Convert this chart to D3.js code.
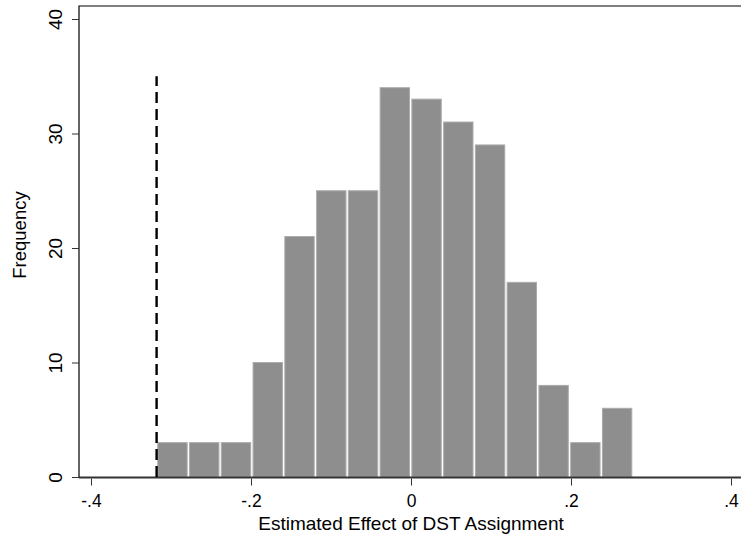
<!DOCTYPE html>
<html><head><meta charset="utf-8">
<script src="https://cdn.jsdelivr.net/npm/d3@7"></script>
<style>body{margin:0;background:#fff}svg{display:block}text{font-family:"Liberation Sans",Arial,sans-serif;fill:#000}</style>
</head><body>
<svg id="c" width="741" height="538"></svg>
<script>
const counts = [3,3,3,10,21,25,25,34,33,31,29,17,8,3,6];
const binStart = -0.318;
const binWidth = 0.0397;
const refLine = {x: -0.318, top: 35};
const xTicks = [-0.4,-0.2,0,0.2,0.4];
const xTickLabels = ["-.4","-.2","0",".2",".4"];
const yTicks = [0,10,20,30,40];
const xTitle = "Estimated Effect of DST Assignment";
const yTitle = "Frequency";

const svg = d3.select("#c");
const x = d3.scaleLinear().domain([-0.4,0.4]).range([91,731]);
const y = d3.scaleLinear().domain([0,40]).range([477,19]);
const frameLeft = 79, frameTop = 6, frameRight = 741;

const bins = counts.map((c,i)=>({x0: binStart+i*binWidth, x1: binStart+(i+1)*binWidth, c}));

svg.append("g").selectAll("rect").data(bins).join("rect")
  .attr("x", d=>x(d.x0)+1.2)
  .attr("width", d=>x(d.x1)-x(d.x0)-2.4)
  .attr("y", d=>y(d.c))
  .attr("height", d=>y(0)-y(d.c))
  .attr("fill","#8e8e8e").attr("stroke","#ababab").attr("stroke-width",1);

// baseline
svg.append("line").attr("x1",frameLeft).attr("x2",frameRight).attr("y1",y(0)+0.5).attr("y2",y(0)+0.5)
  .attr("stroke","#333").attr("stroke-width",2);

// frame
svg.append("path").attr("d",`M${frameLeft},${y(0)}V${frameTop}H${frameRight}`).attr("fill","none").attr("stroke","#000").attr("stroke-width",1.2);

// dashed line
svg.append("line").attr("x1",x(refLine.x)).attr("x2",x(refLine.x))
  .attr("y1",y(0)).attr("y2",y(refLine.top))
  .attr("stroke","#000").attr("stroke-width",2.4).attr("stroke-dasharray","11,6");

// x axis
const xAxis = d3.axisBottom(x).tickValues(xTicks).tickFormat((d,i)=>xTickLabels[i]).tickSize(7).tickSizeOuter(0).tickPadding(9);
const gx = svg.append("g").attr("transform",`translate(0,${y(0)+1.5})`).call(xAxis);
gx.select(".domain").remove();
gx.selectAll(".tick line").attr("stroke","#333");
gx.selectAll(".tick text").attr("font-size",17.5).attr("font-family","Liberation Sans, Arial, sans-serif").attr("fill","#000");

// y axis
const yAxis = d3.axisLeft(y).tickValues(yTicks).tickSize(7).tickSizeOuter(0);
const gy = svg.append("g").attr("transform",`translate(${frameLeft},0)`).call(yAxis);
gy.select(".domain").remove();
gy.selectAll(".tick line").attr("stroke","#333");
gy.selectAll(".tick text").attr("font-size",19).attr("font-family","Liberation Sans, Arial, sans-serif").attr("fill","#000")
  .attr("x",0).attr("dy",0).attr("text-anchor","middle")
  .attr("transform","translate(-17,0) rotate(-90)");

svg.append("text").attr("x",x(0)).attr("y",530).attr("text-anchor","middle").attr("font-size",19).text(xTitle);
svg.append("text").attr("transform","translate(26,235) rotate(-90)").attr("text-anchor","middle").attr("font-size",18.5).text(yTitle);
</script>
</body></html>
